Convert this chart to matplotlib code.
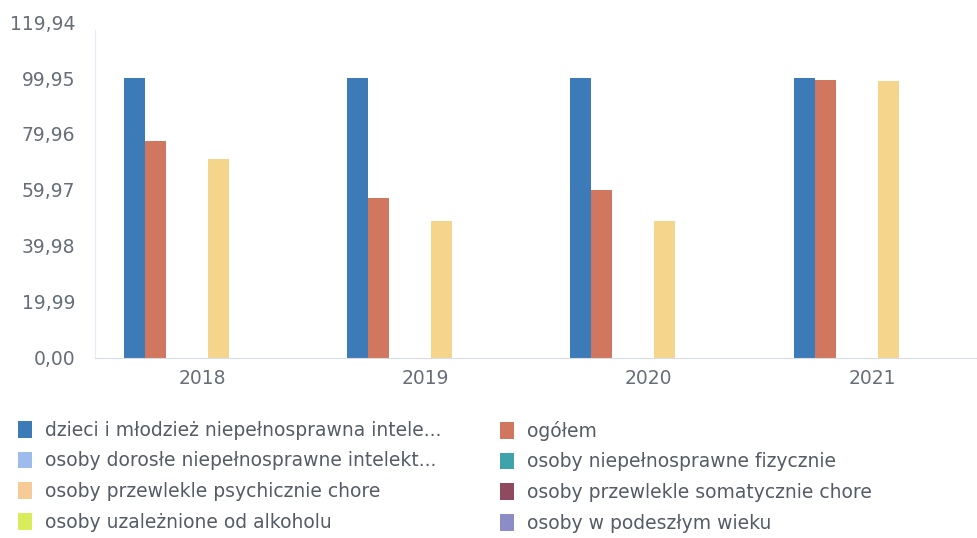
import numpy as np
import matplotlib
matplotlib.use("Agg")
import matplotlib.pyplot as plt
from matplotlib.patches import Patch

# data
years = ["2018", "2019", "2020", "2021"]
series = [
    "dzieci i młodzież niepełnosprawna intele...",
    "ogółem",
    "osoby dorosłe niepełnosprawne intelekt...",
    "osoby niepełnosprawne fizycznie",
    "osoby przewlekle psychicznie chore",
    "osoby przewlekle somatycznie chore",
    "osoby uzależnione od alkoholu",
    "osoby w podeszłym wieku",
]
values = [
    [99.95, 99.95, 99.95, 99.95],   # dzieci i młodzież
    [77.5, 57.0, 60.0, 99.3],       # ogółem
    [0, 0, 0, 0],                   # dorosłe
    [0, 0, 0, 0],                   # fizycznie
    [71.0, 49.0, 49.0, 98.9],       # psychicznie chore
    [0, 0, 0, 0],                   # somatycznie chore
    [0, 0, 0, 0],                   # alkohol
    [0, 0, 0, 0],                   # podeszły wiek
]
yticks = [0.0, 19.99, 39.98, 59.97, 79.96, 99.95, 119.94]

colors = ["#3d7ab8", "#d2775f", "#9dbbec", "#3ea3ab",
          "#f5d48c", "#8e4a5e", "#d9ec5c", "#8c8dc6"]
legend_colors = ["#3d7ab8", "#d2775f", "#9dbbec", "#3ea3ab",
                 "#f6cb98", "#8e4a5e", "#d9ec5c", "#8c8dc6"]

fig = plt.figure(figsize=(9.78, 5.38), dpi=100)
ax = fig.add_axes([0.097, 0.335, 0.903, 0.624])

x = np.arange(len(years))
w = 0.094
start = -0.35
for i, vals in enumerate(values):
    ax.bar(x + start + i * w + w / 2, vals, width=w, color=colors[i],
           align="center", linewidth=0)

ax.set_xlim(-0.48, 3.475)
ax.set_ylim(0, 119.94)
ax.set_yticks(yticks)
ax.set_yticklabels([("%.2f" % t).replace(".", ",") for t in yticks])
ax.set_xticks(x)
ax.set_xticklabels(years)
ax.tick_params(axis="both", length=0, colors="#666e78", labelsize=13.5)
ax.tick_params(axis="y", pad=14)
ax.tick_params(axis="x", pad=8)
for s in ["top", "right"]:
    ax.spines[s].set_visible(False)
ax.spines["left"].set_color("#e8ebf0")
ax.spines["left"].set_bounds(0, 117)
ax.spines["bottom"].set_color("#d8dde5")

# legend in two fixed columns
def make_legend(idx, xpos):
    handles = [Patch(facecolor=legend_colors[i], edgecolor="none") for i in idx]
    labels = [series[i] for i in idx]
    leg = fig.legend(handles, labels, loc="upper left",
                     bbox_to_anchor=(xpos, 0.218), frameon=False,
                     fontsize=13.5, handlelength=0.75, handleheight=1.0,
                     handletextpad=0.7, labelspacing=0.62,
                     borderaxespad=0, borderpad=0)
    for t in leg.get_texts():
        t.set_color("#555c66")
    return leg

make_legend([0, 2, 4, 6], 0.018)
make_legend([1, 3, 5, 7], 0.511)

fig.savefig("out.png", dpi=100)
